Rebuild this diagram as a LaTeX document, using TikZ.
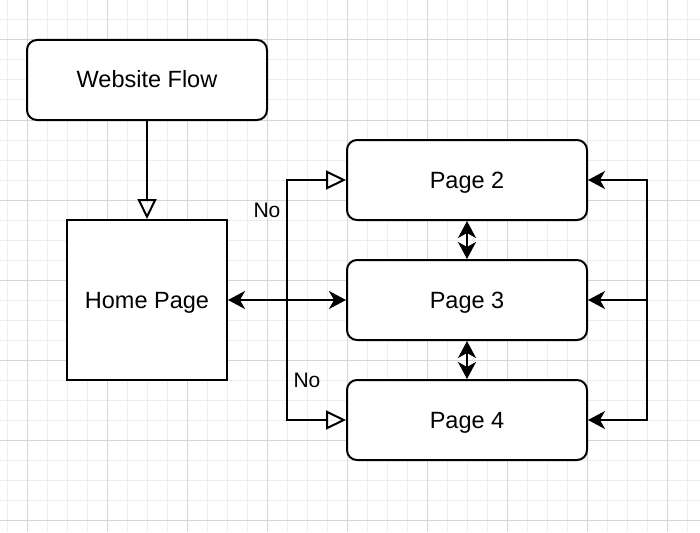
\documentclass[tikz,border=0pt]{standalone}
\usepackage{fontspec}
\setmainfont{Liberation Sans}
\usetikzlibrary{arrows.meta}

\tikzset{
	minorline/.style={draw=black!7, line width=1pt},
	majorline/.style={draw=black!16, line width=1pt},
	pagebox/.style={draw, line width=2pt, fill=white, rounded corners=10pt,
		minimum width=240pt, minimum height=80pt, text height=20pt, text depth=4pt,
		font=\fontsize{23.5}{28}\selectfont},
	homebox/.style={draw, line width=2pt, fill=white,
		minimum width=160pt, minimum height=160pt, text height=20pt, text depth=4pt,
		font=\fontsize{23.5}{28}\selectfont},
	link/.style={line width=2pt},
	openhead/.style={-{Triangle[open, length=20pt, width=19pt, line width=2pt]}},
	solidhead/.style={{Stealth[length=17pt, width=18pt, inset=5pt]}-{Stealth[length=17pt, width=18pt, inset=5pt]}},
	lefthead/.style={-{Stealth[length=17pt, width=18pt, inset=5pt]}},
	notext/.style={font=\fontsize{21}{25}\selectfont}
}

\begin{document}
\begin{tikzpicture}[x=1pt, y=-1pt]

\useasboundingbox (0,0) rectangle (700,532);
\fill[white] (0,0) rectangle (700,532);

\foreach \gx in {7, 27, ..., 687} {
	\draw[minorline] (\gx,0) -- (\gx,532);
}
\foreach \gy in {0, 20, ..., 520} {
	\draw[minorline] (0,\gy) -- (700,\gy);
}
\foreach \gx in {27, 107, ..., 667} {
	\draw[majorline] (\gx,0) -- (\gx,532);
}
\foreach \gy in {40, 120, ..., 520} {
	\draw[majorline] (0,\gy) -- (700,\gy);
}

\node[pagebox] (flow) at (147, 80) {Website Flow};
\node[homebox] (home) at (147, 300) {Home Page};
\node[pagebox] (page2) at (467, 180) {Page 2};
\node[pagebox] (page3) at (467, 300) {Page 3};
\node[pagebox] (page4) at (467, 420) {Page 4};

\coordinate (split) at (287, 300);
\coordinate (bus) at (647, 300);

\draw[link, openhead] (flow.south) -- (home.north);
\draw[link, solidhead] (home.east) -- (page3.west);
\draw[link, openhead] (split) |- (page2.west);
\draw[link, openhead] (split) |- (page4.west);
\draw[link, solidhead] (page2.south) -- (page3.north);
\draw[link, solidhead] (page3.south) -- (page4.north);
\draw[link, lefthead] (bus) |- (page2.east);
\draw[link, lefthead] (bus) -- (page3.east);
\draw[link, lefthead] (bus) |- (page4.east);

\node[notext] (no2) at (267, 210) {No};
\node[notext] (no4) at (307, 380) {No};

\end{tikzpicture}
\end{document}
